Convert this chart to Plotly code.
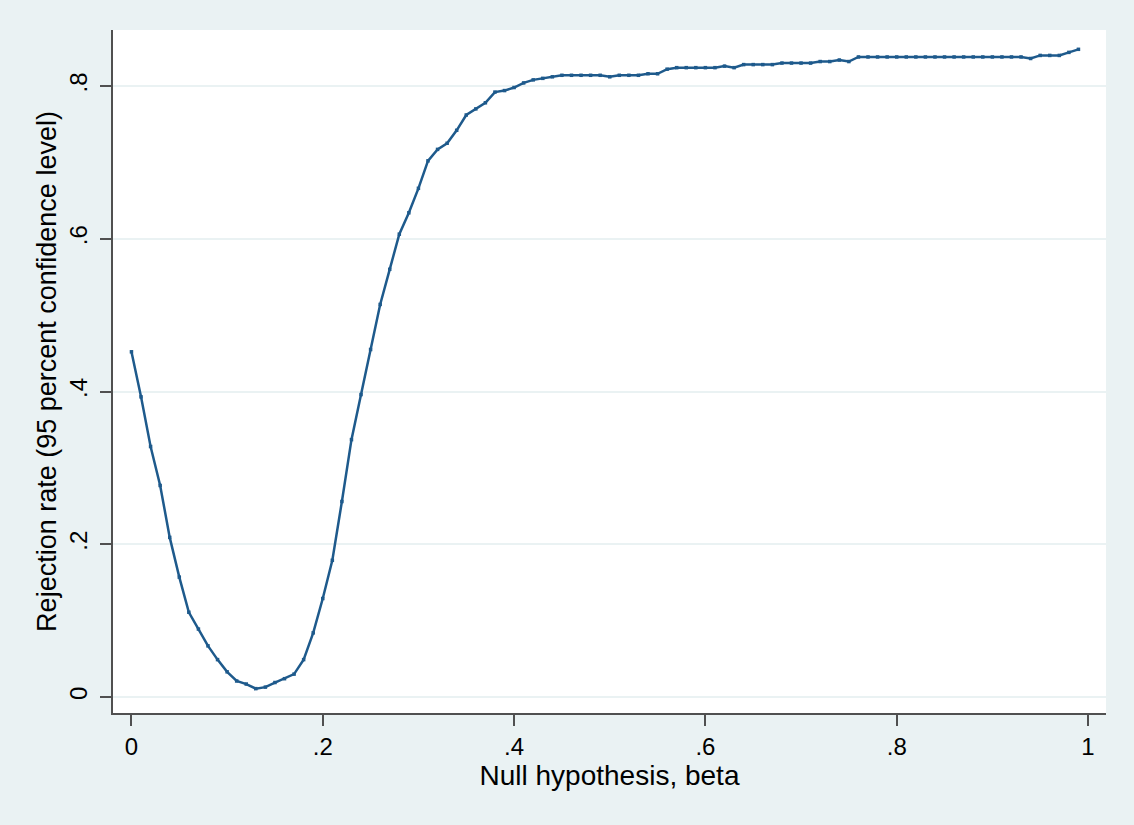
import plotly.graph_objects as go

beta = [0.00, 0.01, 0.02, 0.03, 0.04, 0.05, 0.06, 0.07, 0.08, 0.09,
        0.10, 0.11, 0.12, 0.13, 0.14, 0.15, 0.16, 0.17, 0.18, 0.19,
        0.20, 0.21, 0.22, 0.23, 0.24, 0.25, 0.26, 0.27, 0.28, 0.29,
        0.30, 0.31, 0.32, 0.33, 0.34, 0.35, 0.36, 0.37, 0.38, 0.39,
        0.40, 0.41, 0.42, 0.43, 0.44, 0.45, 0.46, 0.47, 0.48, 0.49,
        0.50, 0.51, 0.52, 0.53, 0.54, 0.55, 0.56, 0.57, 0.58, 0.59,
        0.60, 0.61, 0.62, 0.63, 0.64, 0.65, 0.66, 0.67, 0.68, 0.69,
        0.70, 0.71, 0.72, 0.73, 0.74, 0.75, 0.76, 0.77, 0.78, 0.79,
        0.80, 0.81, 0.82, 0.83, 0.84, 0.85, 0.86, 0.87, 0.88, 0.89,
        0.90, 0.91, 0.92, 0.93, 0.94, 0.95, 0.96, 0.97, 0.98, 0.99]

rejection_rate = [0.452, 0.393, 0.328, 0.277, 0.209, 0.157, 0.111, 0.089, 0.067, 0.049,
                  0.033, 0.021, 0.017, 0.011, 0.013, 0.019, 0.024, 0.030, 0.049, 0.084,
                  0.129, 0.179, 0.256, 0.337, 0.396, 0.455, 0.514, 0.560, 0.606, 0.634,
                  0.666, 0.702, 0.717, 0.725, 0.742, 0.762, 0.770, 0.778, 0.792, 0.794,
                  0.798, 0.804, 0.808, 0.810, 0.812, 0.814, 0.814, 0.814, 0.814, 0.814,
                  0.812, 0.814, 0.814, 0.814, 0.816, 0.816, 0.822, 0.824, 0.824, 0.824,
                  0.824, 0.824, 0.826, 0.824, 0.828, 0.828, 0.828, 0.828, 0.830, 0.830,
                  0.830, 0.830, 0.832, 0.832, 0.834, 0.832, 0.838, 0.838, 0.838, 0.838,
                  0.838, 0.838, 0.838, 0.838, 0.838, 0.838, 0.838, 0.838, 0.838, 0.838,
                  0.838, 0.838, 0.838, 0.838, 0.836, 0.840, 0.840, 0.840, 0.844, 0.848]

x_tick_vals = [0, 0.2, 0.4, 0.6, 0.8, 1]
x_tick_text = ["0", ".2", ".4", ".6", ".8", "1"]
y_tick_vals = [0, 0.2, 0.4, 0.6, 0.8]
y_tick_text = ["0", ".2", ".4", ".6", ".8"]

x_title = "Null hypothesis, beta"
y_title = "Rejection rate (95 percent confidence level)"

BG = "#eaf2f3"
LINE = "#1e5a8c"
AXIS = "#505050"
FONT = "Liberation Sans, Arial, Helvetica, sans-serif"

fig = go.Figure()
fig.add_trace(go.Scatter(
    x=beta, y=rejection_rate, mode="lines+markers",
    line=dict(color=LINE, width=2.5),
    marker=dict(symbol="square", size=3.5, color=LINE),
    showlegend=False, hoverinfo="x+y",
))

fig.update_layout(
    width=1134, height=825,
    paper_bgcolor=BG, plot_bgcolor="white",
    margin=dict(l=113, r=28, t=30, b=112),
    font=dict(family=FONT, color="black"),
    xaxis=dict(
        range=[-0.0193, 1.0188],
        tickvals=x_tick_vals, ticktext=x_tick_text,
        ticks="outside", ticklen=11, tickwidth=1.5, tickcolor=AXIS,
        showline=True, linecolor=AXIS, linewidth=1.5,
        showgrid=False, zeroline=False,
        tickfont=dict(size=24, family=FONT, color="black"),
        title=dict(text=x_title, font=dict(size=28, family=FONT, color="black"), standoff=3),
    ),
    yaxis=dict(
        range=[-0.0209, 0.8733],
        tickvals=y_tick_vals, ticktext=y_tick_text,
        tickangle=-90,
        ticks="outside", ticklen=11, tickwidth=1.5, tickcolor=AXIS,
        ticklabelstandoff=4,
        showline=True, linecolor=AXIS, linewidth=1.5,
        showgrid=True, gridcolor=BG, gridwidth=2,
        zeroline=False,
        tickfont=dict(size=24, family=FONT, color="black"),
        title=dict(text=y_title, font=dict(size=27, family=FONT, color="black"), standoff=0),
    ),
)

fig.write_html("out.html", config={"displayModeBar": False},
               post_script="document.body.style.margin='0';document.body.style.padding='0';")
